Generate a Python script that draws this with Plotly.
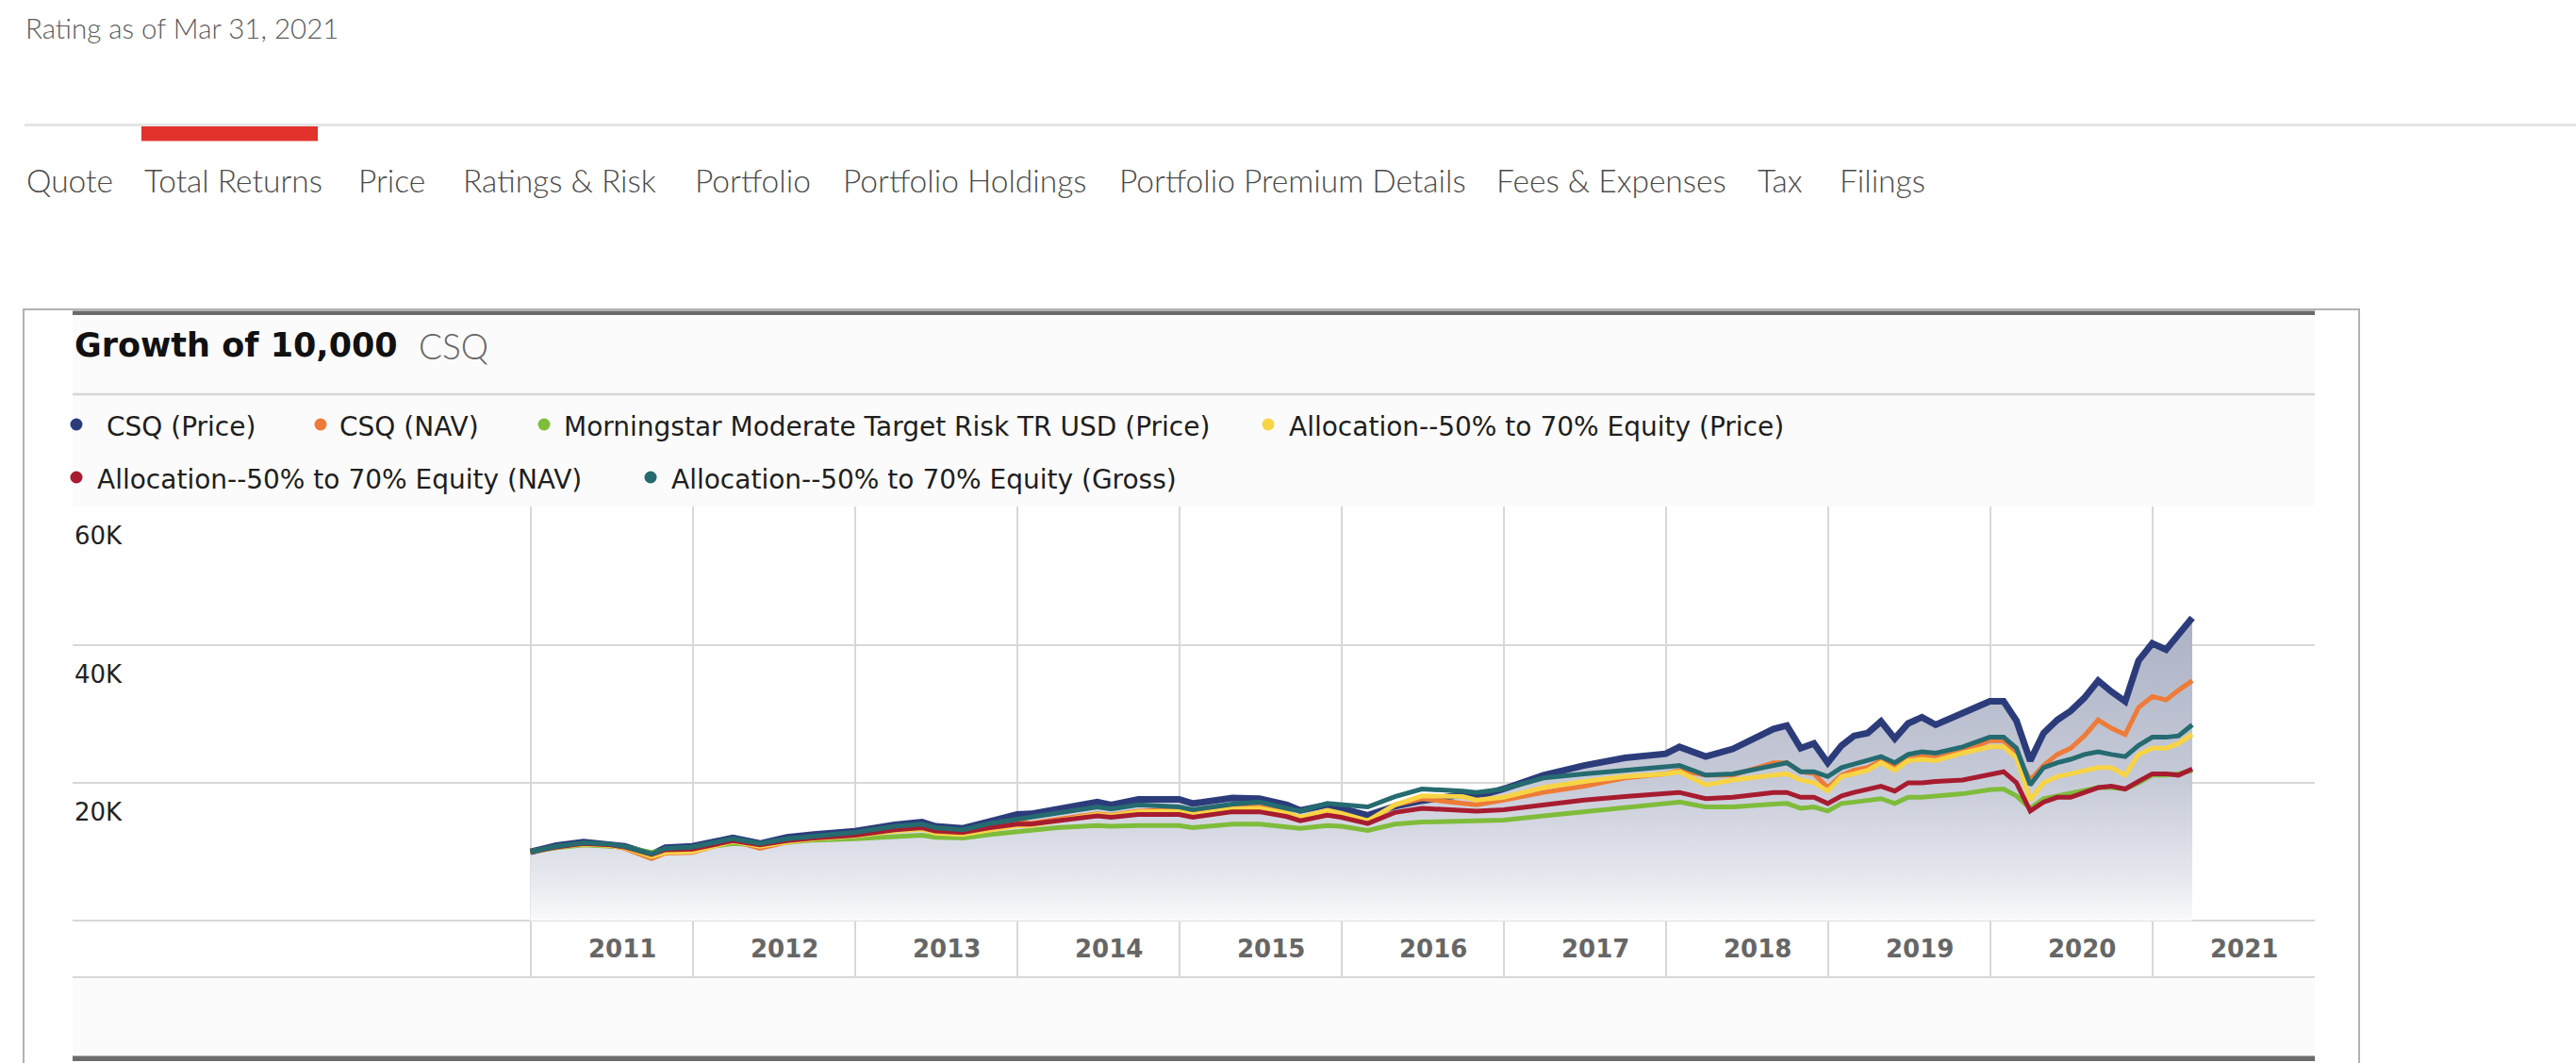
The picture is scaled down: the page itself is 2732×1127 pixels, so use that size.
import plotly.graph_objects as go

# ---------------- data ----------------
dates = [
    "2010-12-31", "2011-02-28", "2011-04-30", "2011-06-30", "2011-07-31", "2011-09-30", "2011-10-31", "2011-12-31",
    "2012-03-31", "2012-05-31", "2012-07-31", "2012-09-30", "2012-12-31",
    "2013-03-31", "2013-05-31", "2013-06-30", "2013-08-31", "2013-10-31", "2013-12-31",
    "2014-01-31", "2014-03-31", "2014-06-30", "2014-07-31", "2014-09-30", "2014-12-31",
    "2015-01-31", "2015-04-30", "2015-06-30", "2015-08-31", "2015-09-30", "2015-11-30", "2015-12-31",
    "2016-02-29", "2016-04-30", "2016-06-30", "2016-09-30", "2016-10-31", "2016-12-31",
    "2017-03-31", "2017-06-30", "2017-09-30", "2017-12-31",
    "2018-01-31", "2018-03-31", "2018-05-31", "2018-08-31", "2018-09-30", "2018-10-31", "2018-11-30", "2018-12-31",
    "2019-01-31", "2019-02-28", "2019-03-31", "2019-04-30", "2019-05-31", "2019-06-30", "2019-07-31", "2019-08-31", "2019-10-31", "2019-12-31",
    "2020-01-31", "2020-02-29", "2020-03-31", "2020-04-30", "2020-05-31", "2020-06-30", "2020-07-31", "2020-08-31", "2020-09-30", "2020-10-31", "2020-11-30", "2020-12-31",
    "2021-01-31", "2021-02-28", "2021-03-31",
]

csq_price = [
    10000, 10900, 11400, 11100, 10800, 9600, 10600, 10800,
    12000, 11200, 12100, 12500, 13000,
    13900, 14300, 13700, 13400, 14400, 15400,
    15500, 16100, 17200, 16800, 17600, 17600,
    17000, 17800, 17700, 16800, 16000, 16800, 16300,
    15300, 16600, 17400, 18300, 18000, 19100,
    21100, 22500, 23600, 24200,
    25200, 23800, 24900, 27800, 28300, 25000, 25700, 22900,
    25400, 26800, 27200, 28900, 26400, 28600, 29500, 28400, 30000, 31800,
    31800, 29000, 23200, 27200, 29100, 30400, 32300, 34800, 33200, 31800, 37700, 40200,
    39300, 41600, 43900,
]

csq_nav = [
    10000, 10700, 11100, 10900, 10500, 9000, 9800, 9900,
    11600, 10500, 11400, 11900, 12400,
    13400, 13800, 13200, 12500, 14000, 14400,
    14100, 14700, 15500, 15300, 15900, 16100,
    15500, 16400, 16500, 15700, 14700, 15900, 15300,
    14300, 16800, 17700, 17000, 16800, 17500,
    18600, 19500, 20700, 21300,
    21800, 21100, 21100, 22900, 22900, 21600, 21300, 19300,
    21100, 21800, 22200, 23200, 22200, 23400, 23800, 23600, 24500, 26100,
    26100, 24100, 20400, 22500, 24100, 25000, 26800, 29100, 27900, 27000, 30900, 32500,
    32000, 33400, 34800,
]

mstar_moderate = [
    10000, 10600, 11000, 10900, 10700, 9900, 10300, 10400,
    11200, 11000, 11400, 11700, 11900,
    12200, 12400, 12100, 12000, 12500, 12900,
    13000, 13500, 13800, 13700, 13800, 13800,
    13500, 14000, 14000, 13700, 13400, 13800, 13700,
    13100, 14000, 14300, 14500, 14400, 14600,
    15200, 15800, 16300, 16900,
    17200, 16500, 16500, 16900, 17000, 16300, 16500, 15900,
    17000, 17200, 17500, 17700, 17000, 17900, 17900, 18100, 18400, 19000,
    19100, 18100, 16300, 17700, 18100, 18400, 18800, 19300, 19300, 19100, 20000, 21100,
    21100, 21300, 21800,
]

alloc_price = [
    10000, 10700, 11100, 10900, 10600, 9300, 9900, 10000,
    11500, 10800, 11400, 11900, 12300,
    13000, 13300, 12700, 12500, 13100, 13800,
    13800, 14500, 15400, 15200, 15800, 15900,
    15400, 16200, 16300, 15600, 15000, 16000, 15600,
    14500, 16800, 18100, 18000, 17500, 17900,
    19300, 20200, 20900, 21300,
    21600, 19700, 20400, 21100, 21300, 20400, 20000, 18800,
    20900, 21300, 21800, 22900, 21800, 23200, 23400, 23200, 24300, 25200,
    25200, 23600, 17500, 20000, 20900, 21300, 21800, 22200, 22200, 21100, 24100, 25000,
    25000, 25700, 27000,
]

alloc_nav = [
    10000, 10700, 11200, 11000, 10700, 9600, 10300, 10400,
    11600, 11000, 11600, 12000, 12400,
    13200, 13500, 13000, 12800, 13500, 14000,
    14000, 14500, 15200, 15000, 15400, 15400,
    15000, 15800, 15800, 15100, 14500, 15300, 15000,
    14100, 15700, 16300, 16100, 15900, 16100,
    16800, 17500, 18000, 18400,
    18600, 17700, 17900, 18600, 18600, 17900, 17900, 17000,
    18100, 18600, 19100, 19500, 18800, 20000, 20000, 20200, 20400, 21300,
    21600, 20000, 15900, 17200, 17900, 17900, 18600, 19300, 19500, 19100, 20200, 21300,
    21300, 21100, 22000,
]

alloc_gross = [
    10000, 10800, 11300, 11100, 10800, 9700, 10500, 10700,
    11900, 11200, 11900, 12300, 12800,
    13700, 14000, 13500, 13200, 14100, 14700,
    15000, 15600, 16500, 16200, 16800, 16500,
    16100, 16900, 17200, 16300, 15900, 17000, 16800,
    16500, 18000, 19100, 18800, 18600, 19100,
    20700, 21300, 21800, 22200,
    22500, 21100, 21300, 22500, 22900, 21600, 21600, 20900,
    22200, 22700, 23200, 23800, 22900, 24100, 24500, 24300, 25200, 26600,
    26600, 25000, 19700, 22200, 22900, 23400, 24100, 24500, 24100, 23800, 25400, 26600,
    26600, 26800, 28400,
]

series_names = [
    "CSQ (Price)",
    "CSQ (NAV)",
    "Morningstar Moderate Target Risk TR USD (Price)",
    "Allocation--50% to 70% Equity (Price)",
    "Allocation--50% to 70% Equity (NAV)",
    "Allocation--50% to 70% Equity (Gross)",
]
series_values = [csq_price, csq_nav, mstar_moderate, alloc_price, alloc_nav, alloc_gross]
series_colors = ["#2c3c7b", "#ee7b37", "#7fbc3b", "#f7d445", "#a71c30", "#256b70"]
for s in series_values:
    assert len(s) == len(dates)

year_gridlines = [f"{y}-01-01" for y in range(2011, 2022)]
year_labels = [str(y) for y in range(2011, 2022)]
y_ticks = [0, 20000, 40000, 60000]
y_tick_text = ["", "20K", "40K", "60K"]

tabs = ["Quote", "Total Returns", "Price", "Ratings & Risk", "Portfolio", "Portfolio Holdings",
        "Portfolio Premium Details", "Fees & Expenses", "Tax", "Filings"]
tab_x = [26, 151, 378, 489, 735, 892, 1185, 1585, 1862, 1949]

# ---------------- layout geometry (page pixels) ----------------
W, H = 2732, 1127
PL, PR, PT, PB = 77, 2455, 537, 1035


def xp(px):
    return (px - PL) / (PR - PL)


def yp(py):
    return (PB - py) / (PB - PT)


VERDANA = "DejaVu Sans, Verdana, sans-serif"
NARROW = "Lato, Roboto, sans-serif"

fig = go.Figure()

# gradient area under CSQ (Price)
fig.add_trace(go.Scatter(
    x=dates, y=csq_price, mode="lines", line=dict(width=0, color="rgba(0,0,0,0)"),
    fill="tozeroy",
    fillgradient=dict(type="vertical", start=0, stop=45000,
                      colorscale=[[0, "#fafafc"], [0.12, "#e8eaf0"], [0.45, "#c6cad7"], [1, "#abb1c5"]]),
    hoverinfo="skip", showlegend=False,
))

for name, vals, col in zip(series_names, series_values, series_colors):
    fig.add_trace(go.Scatter(
        x=dates, y=vals, mode="lines", name=name,
        line=dict(color=col, width=7 if name == "CSQ (Price)" else 5),
        showlegend=False,
    ))

shapes = []
annotations = []

# header
annotations.append(dict(text="Rating as of Mar 31, 2021", x=xp(25), y=yp(29), xref="paper", yref="paper",
                        xanchor="left", yanchor="middle", showarrow=False,
                        font=dict(family=NARROW, size=29.5, weight=300, color="#5a5a5a")))
shapes.append(dict(type="line", xref="paper", yref="paper", x0=xp(26), x1=xp(2732), y0=yp(132.5), y1=yp(132.5),
                   line=dict(color="#e4e4e4", width=3)))
shapes.append(dict(type="rect", xref="paper", yref="paper", x0=xp(150), x1=xp(337), y0=yp(134), y1=yp(149.5),
                   fillcolor="#e3322c", line=dict(width=0)))
for t, tx in zip(tabs, tab_x):
    annotations.append(dict(text=t, x=xp(tx), y=yp(191), xref="paper", yref="paper",
                            xanchor="left", yanchor="middle", showarrow=False,
                            font=dict(family=NARROW, size=33.5, weight=300, color="#4a4a4a")))

# chart box
for y_top, y_bot in [(334, PT), (PB, 1120)]:
    shapes.append(dict(type="rect", xref="paper", yref="paper", x0=xp(77), x1=xp(2455), y0=yp(y_bot), y1=yp(y_top),
                       fillcolor="#fbfbfb", line=dict(width=0), layer="below"))
shapes.append(dict(type="rect", xref="paper", yref="paper", x0=xp(25), x1=xp(2502), y0=yp(1160), y1=yp(328),
                   line=dict(color="#b2b2b2", width=2)))
shapes.append(dict(type="rect", xref="paper", yref="paper", x0=xp(77), x1=xp(2455), y0=yp(334), y1=yp(329.5),
                   fillcolor="#6b6b6b", line=dict(width=0)))
shapes.append(dict(type="rect", xref="paper", yref="paper", x0=xp(77), x1=xp(2455), y0=yp(1125), y1=yp(1119.5),
                   fillcolor="#6b6b6b", line=dict(width=0)))
shapes.append(dict(type="line", xref="paper", yref="paper", x0=xp(77), x1=xp(2455), y0=yp(418), y1=yp(418),
                   line=dict(color="#d6d6d6", width=2.5)))

annotations.append(dict(text="<b>Growth of 10,000</b>", x=xp(77), y=yp(366), xref="paper", yref="paper",
                        xanchor="left", yanchor="middle", showarrow=False,
                        font=dict(family=VERDANA, size=35, color="#111111")))
annotations.append(dict(text="CSQ", x=xp(442), y=yp(366), xref="paper", yref="paper",
                        xanchor="left", yanchor="middle", showarrow=False,
                        font=dict(family=NARROW, size=37, weight=300, color="#666666")))

# legend (dots + labels)
leg_dot_x = [81, 340, 577, 1345, 81, 690]
leg_txt_x = [111, 358, 596, 1365, 101, 710]
leg_y = [451, 451, 451, 451, 507, 507]
for name, col, dx, tx, ly in zip(series_names, series_colors, leg_dot_x, leg_txt_x, leg_y):
    shapes.append(dict(type="circle", xref="paper", yref="paper", xsizemode="pixel", ysizemode="pixel",
                       xanchor=xp(dx), yanchor=yp(ly - 1), x0=-6.5, x1=6.5, y0=-6.5, y1=6.5,
                       fillcolor=col, line=dict(width=0)))
    annotations.append(dict(text=name, x=xp(tx), y=yp(ly + 1), xref="paper", yref="paper",
                            xanchor="left", yanchor="middle", showarrow=False,
                            font=dict(family=VERDANA, size=28, color="#1e1e1e")))

# axis labels
for v, t in zip(y_ticks, y_tick_text):
    if t:
        annotations.append(dict(text=t, x=0, y=v, xref="paper", yref="y", xanchor="left", yanchor="middle",
                                yshift=-31, showarrow=False, font=dict(family=VERDANA, size=26, color="#222222")))
for yl in year_labels:
    annotations.append(dict(text=f"<b>{yl}</b>", x=f"{yl}-07-02", y=-4000, xref="x", yref="y",
                            xanchor="center", yanchor="middle", xshift=11, showarrow=False,
                            font=dict(family=VERDANA, size=26, color="#666666")))

fig.update_layout(
    width=W, height=H,
    margin=dict(l=PL, r=W - PR, t=PT, b=H - PB, pad=0),
    paper_bgcolor="#ffffff", plot_bgcolor="#ffffff",
    showlegend=False,
    shapes=shapes, annotations=annotations,
    xaxis=dict(type="date", range=["2008-03-05", "2022-01-01"], tickvals=year_gridlines,
               showticklabels=False, ticks="", showgrid=True, gridcolor="#d8d8d8", gridwidth=2,
               showline=True, linecolor="#d8d8d8", linewidth=2, zeroline=False, fixedrange=True),
    yaxis=dict(range=[-8030, 60030], tickvals=y_ticks, ticktext=y_tick_text, showticklabels=False,
               ticks="", showgrid=True, gridcolor="#d8d8d8", gridwidth=2, zeroline=False, fixedrange=True),
)

fig.write_html("out.html", config={"displayModeBar": False},
               post_script="document.body.style.margin='0';document.body.style.overflow='hidden';")
